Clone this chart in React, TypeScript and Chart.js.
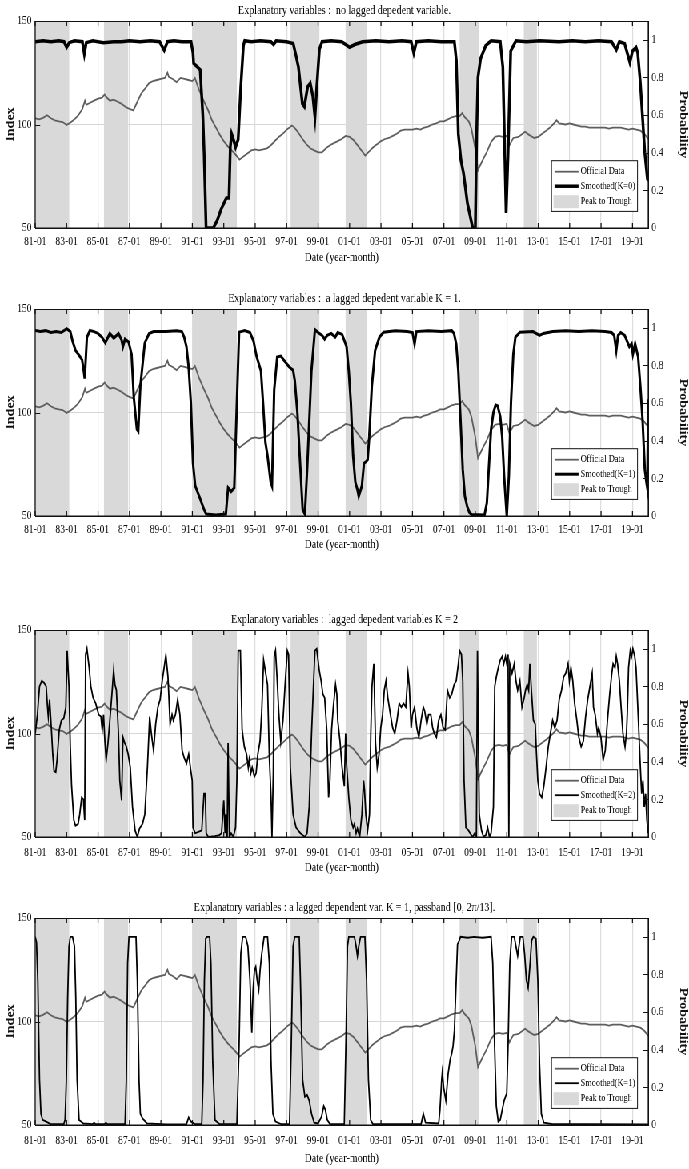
import React, { useEffect, useRef } from 'react';
import { Chart, registerables } from 'chart.js';

Chart.register(...registerables);

// ---------- layout constants ----------
const INNER_W = 861;
const SQUEEZE = 689 / INNER_W;
const PANEL_H = 270;
const FONT = "'Liberation Serif', 'Times New Roman', serif";
const INK = '#111111';
const GRAY_LINE = '#5e5e5e';
const BAND_COLOR = '#d9d9d9';
const GRID_COLOR = '#dedede';

// ---------- axes ----------
const xTickMonths = [0, 24, 48, 72, 96, 120, 144, 168, 192, 216, 240, 264, 288, 312, 336, 360, 384, 408, 432, 456];
const xTickLabels = ['81-01', '83-01', '85-01', '87-01', '89-01', '91-01', '93-01', '95-01', '97-01', '99-01',
  '01-01', '03-01', '05-01', '07-01', '09-01', '11-01', '13-01', '15-01', '17-01', '19-01'];
const indexTicks = [50, 100, 150];
const probTicks = [0, 0.2, 0.4, 0.6, 0.8, 1];
const probTickLabels = ['0', '0.2', '0.4', '0.6', '0.8', '1'];

// ---------- peak-to-trough bands (months since 1981-01) ----------
const bandStart = [0, 52.5, 120.2, 195, 237, 324, 373];
const bandEnd = [26, 71, 154, 217, 253, 339, 383];
const bandLabel = 'Peak to Trough';

// ---------- official index (months since 1981-01, value) ----------
const officialMonths = [0, 3, 6, 9, 12, 15, 18, 21, 24, 27, 30, 33, 36, 38, 39, 42, 45, 48, 51, 53, 54, 57, 60, 63, 66, 69, 72, 75, 78, 81, 84, 87, 90, 93, 96, 99, 101, 102, 105, 108, 111, 114, 117, 120, 122, 125, 129, 132, 135, 138, 141, 144, 147, 150, 153, 156, 159, 162, 165, 168, 171, 174, 177, 180, 183, 186, 189, 192, 196, 198, 201, 204, 207, 210, 213, 216, 219, 222, 225, 228, 231, 234, 237, 240, 243, 246, 249, 252, 255, 258, 261, 264, 267, 270, 273, 276, 279, 282, 285, 288, 291, 294, 297, 300, 303, 306, 309, 312, 315, 318, 321, 324, 326, 328, 331, 333, 336, 338, 341, 345, 348, 351, 354, 357, 360, 362, 365, 369, 372, 374, 377, 381, 384, 387, 390, 393, 396, 398, 400, 405, 408, 411, 414, 417, 420, 423, 426, 429, 432, 435, 438, 441, 444, 447, 450, 453, 456, 459, 462, 465, 468];
const officialIndex = [103, 102.5, 103.2, 104.5, 103, 102, 101.5, 101.2, 99.8, 101, 102.5, 104.5, 107.5, 111.5, 109.5, 110.5, 111.5, 112.5, 113, 114.5, 113.5, 111.5, 112, 111, 110, 108.5, 107.5, 106.8, 111, 115, 117.5, 120, 121, 121.5, 122, 122.5, 125, 123, 122, 120.5, 122.5, 122, 121.5, 121, 122.5, 117, 111, 107, 102, 98.5, 95, 92, 89.5, 87.5, 85.5, 83, 84.5, 86, 87.5, 88, 87.5, 88, 88.5, 90, 92, 94, 95.5, 97.5, 99.5, 98.5, 96, 93, 90.5, 88.5, 87.5, 86.5, 86.5, 88.5, 90, 91, 92, 93, 94.5, 94, 92.5, 90, 87.5, 85, 87, 89, 90.5, 92, 93, 93.5, 94.5, 95.5, 97, 97.5, 97.5, 97.5, 98, 97.5, 98.5, 99, 100, 100.5, 101.5, 101.5, 102.5, 103.5, 104, 104, 105.5, 103.5, 101.5, 98, 88, 78, 82, 87, 91.5, 94, 94.5, 94, 94.5, 90, 93.5, 94, 95.5, 96.5, 95, 93.5, 94, 95.5, 97, 98.5, 100.5, 102, 100.5, 100, 100.5, 100, 99.5, 99, 99, 98.5, 98.5, 98.5, 98.5, 98.5, 98, 98.5, 98.5, 98.5, 98, 97.5, 98, 97.5, 97, 95.5, 93];

// ---------- smoothed probabilities: [month, probability] ----------
const smoothedK0 = [[0, 0.99], [6, 0.995], [12, 0.99], [18, 0.995], [22, 0.99], [24, 0.96], [26, 0.985], [30, 0.995], [36, 0.99], [37.5, 0.925], [39, 0.985], [44, 0.995], [52, 0.985], [60, 0.99], [66, 0.99], [72, 0.995], [80, 0.99], [88, 0.995], [95, 0.99], [98.5, 0.945], [101, 0.99], [106, 0.995], [112, 0.99], [119, 0.99], [120.5, 0.93], [121, 0.875], [124, 0.855], [126, 0.84], [128, 0.6], [129, 0.4], [130.5, 0], [136, 0], [139, 0.04], [142, 0.1], [146, 0.16], [148, 0.16], [149, 0.43], [150, 0.5], [151, 0.48], [153, 0.43], [155, 0.47], [157, 0.75], [159, 0.97], [160, 0.995], [165, 0.99], [172, 0.995], [180, 0.99], [182, 0.975], [184, 0.995], [192, 0.99], [197, 0.98], [199, 0.92], [201, 0.855], [204, 0.66], [205.5, 0.645], [208, 0.75], [210, 0.77], [212, 0.7], [213.6, 0.59], [215, 0.75], [217, 0.95], [219, 0.99], [226, 0.995], [234, 0.99], [240, 0.96], [244, 0.975], [250, 0.99], [260, 0.995], [270, 0.99], [280, 0.995], [287, 0.99], [289, 0.93], [291, 0.99], [300, 0.995], [310, 0.99], [320, 0.99], [321.5, 0.89], [323, 0.5], [325, 0.36], [327, 0.29], [330, 0.13], [334, 0], [336, 0], [337, 0.5], [338, 0.8], [340, 0.9], [344, 0.97], [348, 0.995], [355, 0.99], [357, 0.855], [359.5, 0.08], [361, 0.4], [363, 0.94], [367, 0.995], [375, 0.99], [385, 0.995], [400, 0.99], [410, 0.995], [420, 0.99], [430, 0.995], [440, 0.99], [443.6, 0.947], [446, 0.99], [450, 0.98], [454, 0.88], [456, 0.94], [458.7, 0.96], [460, 0.93], [462, 0.77], [465.4, 0.4], [467.4, 0.26], [468, 0.25]];

const smoothedK1 = [[0, 0.986], [4, 0.98], [8, 0.985], [12, 0.975], [16, 0.98], [20, 0.975], [24, 0.995], [26.8, 0.98], [28.5, 0.93], [30.8, 0.88], [33.5, 0.854], [35.8, 0.83], [37.3, 0.76], [37.8, 0.73], [39.5, 0.95], [41.8, 0.986], [45, 0.98], [48, 0.97], [51, 0.95], [53.5, 0.92], [57, 0.97], [60, 0.945], [63.6, 0.97], [66, 0.935], [67, 0.9], [68.6, 0.94], [71.3, 0.925], [73.6, 0.86], [75.3, 0.63], [77.7, 0.46], [78.7, 0.45], [80.3, 0.69], [83.7, 0.92], [87, 0.97], [90.4, 0.98], [100, 0.98], [108, 0.985], [112, 0.98], [113.8, 0.95], [115.5, 0.9], [117.2, 0.79], [118.9, 0.6], [120.5, 0.28], [122.2, 0.16], [125.5, 0.1], [128.9, 0.035], [130.6, 0.01], [138, 0.005], [145.6, 0.01], [147.3, 0.15], [149.6, 0.13], [152, 0.15], [154, 0.6], [155.7, 0.977], [160, 0.985], [164, 0.975], [166.7, 0.93], [169, 0.85], [172.4, 0.77], [174, 0.6], [175.8, 0.39], [177.4, 0.32], [179.8, 0.18], [180.8, 0.16], [182.5, 0.67], [184.8, 0.845], [187.5, 0.85], [190.8, 0.82], [194.2, 0.79], [196.9, 0.775], [198.2, 0.72], [200.2, 0.55], [202.5, 0.25], [204.2, 0.035], [205.9, 0.01], [207.6, 0.24], [210.9, 0.77], [213.6, 0.99], [216, 0.975], [219, 0.96], [221, 0.94], [223, 0.96], [226, 0.97], [229, 0.95], [231, 0.975], [234.3, 0.965], [237.7, 0.9], [239.4, 0.77], [241, 0.6], [242.7, 0.32], [244.4, 0.18], [246, 0.14], [247, 0.105], [249.4, 0.16], [251, 0.28], [252.8, 0.29], [253.8, 0.3], [255, 0.42], [257, 0.69], [259.5, 0.88], [262.8, 0.95], [266, 0.977], [275, 0.985], [284, 0.98], [288, 0.975], [289.6, 0.915], [291, 0.98], [300, 0.985], [310, 0.98], [318, 0.985], [319.7, 0.97], [321.4, 0.915], [323, 0.77], [324.7, 0.51], [326.4, 0.246], [328, 0.105], [329.8, 0.05], [331.4, 0.02], [333, 0.008], [343, 0.005], [344.8, 0.07], [346.5, 0.28], [348, 0.46], [349.8, 0.55], [351.5, 0.59], [353, 0.585], [355, 0.53], [356.5, 0.42], [358, 0.21], [360, 0], [361.6, 0.21], [363.2, 0.6], [365, 0.86], [366.6, 0.95], [370, 0.977], [380, 0.98], [385, 0.96], [388, 0.97], [395, 0.98], [405, 0.985], [415, 0.98], [425, 0.985], [435, 0.98], [440, 0.975], [442, 0.96], [443.6, 0.88], [445, 0.96], [447, 0.975], [450, 0.96], [453.6, 0.9], [455.3, 0.915], [456.3, 0.86], [458, 0.915], [460.3, 0.845], [462, 0.69], [463.7, 0.51], [465.4, 0.246], [466.7, 0.176], [467.3, 0.15], [468, 0.62]];

const smoothedK2 = [[0, 0.55], [1.7, 0.65], [3.3, 0.8], [5, 0.83], [6.7, 0.82], [8.4, 0.8], [9.4, 0.69], [10, 0.64], [11, 0.73], [12.4, 0.57], [13.4, 0.44], [14.4, 0.35], [15.7, 0.345], [16.7, 0.41], [18.4, 0.57], [20, 0.62], [21.8, 0.63], [23.4, 0.69], [24.4, 0.99], [25.8, 0.8], [26.8, 0.48], [27.8, 0.27], [29.5, 0.09], [30.8, 0.06], [32.8, 0.07], [34, 0.12], [35.5, 0.21], [36.8, 0.2], [37.8, 0.09], [38.5, 0.97], [39.5, 1.0], [41.2, 0.9], [42.5, 0.8], [44.2, 0.74], [46.2, 0.71], [48.5, 0.65], [50.2, 0.64], [51.2, 0.57], [52.2, 0.65], [53.2, 0.51], [54.2, 0.41], [55.6, 0.5], [57, 0.62], [58.6, 0.76], [59.9, 0.885], [60.9, 0.81], [62, 0.78], [63.6, 0.55], [64.6, 0.3], [66, 0.195], [67, 0.53], [68.3, 0.5], [69.6, 0.48], [71, 0.44], [72.6, 0.37], [74.3, 0.16], [76.3, 0.035], [78, 0], [79.7, 0.045], [82, 0.07], [83.7, 0.12], [85.7, 0.37], [87.4, 0.64], [88.7, 0.55], [90.4, 0.46], [92, 0.6], [93.7, 0.69], [95.4, 0.73], [97, 0.83], [99.8, 0.965], [101.4, 0.85], [103, 0.6], [104.5, 0.65], [105.5, 0.62], [107.1, 0.65], [108.8, 0.73], [110.5, 0.65], [112.2, 0.46], [113.8, 0.42], [115.5, 0.39], [117.2, 0.44], [118.9, 0.35], [119.9, 0.3], [120.5, 0.05], [122.2, 0.02], [125.5, 0.03], [127.2, 0.035], [128.9, 0.23], [129.9, 0.23], [130.6, 0.02], [132.2, 0], [137.3, 0.004], [140.6, 0.01], [142.3, 0.02], [144, 0.195], [145, 0.02], [145.6, 0.12], [146.6, 0], [147.3, 0.5], [148.3, 0], [149.6, 0.02], [151.3, 0], [153, 0.05], [154, 0.3], [155, 0.99], [156.7, 0.99], [158, 0.57], [159.7, 0.48], [161.4, 0.44], [162.7, 0.37], [163.4, 0.41], [164.7, 0.34], [165.7, 0.37], [167.4, 0.32], [168.7, 0.34], [170, 0.44], [171.7, 0.51], [173, 0.67], [174.4, 0.94], [176, 0.87], [177.4, 0.81], [178.8, 0.42], [180.1, 0.21], [180.8, 0], [181.8, 0.34], [182.5, 0.96], [183.5, 0.99], [184.8, 0.83], [186.1, 0.65], [187.5, 0.51], [189.2, 0.62], [190.8, 0.81], [192.5, 0.99], [193.5, 0.97], [194.8, 0.37], [196.9, 0.12], [199.2, 0.05], [202.5, 0.02], [205.9, 0], [207.6, 0.02], [209.2, 0.16], [211, 0.55], [212.6, 0.83], [213.6, 0.99], [214.9, 1.0], [216.9, 0.885], [218.3, 0.83], [219.6, 0.76], [221, 0.74], [222.6, 0.57], [224, 0.21], [225, 0.3], [226.3, 0.57], [227.6, 0.69], [229.3, 0.81], [230.3, 0.76], [231, 0.62], [232.7, 0.51], [234.3, 0.37], [236, 0.27], [237, 0.55], [237.7, 0.39], [239.4, 0.21], [241, 0.09], [242.7, 0.05], [243.7, 0.07], [245, 0.02], [246, 0.045], [247.7, 0], [249.4, 0.12], [250.7, 0.3], [251.4, 0.25], [252.4, 0.12], [253.8, 0.035], [255.2, 0.12], [256.2, 0.55], [257.1, 0.8], [258.5, 0.92], [259.8, 0.5], [261.1, 0.37], [262.5, 0.44], [263.8, 0.58], [265.2, 0.65], [266.5, 0.78], [267.8, 0.83], [269.2, 0.74], [271.2, 0.65], [272.9, 0.58], [274.5, 0.55], [276.2, 0.62], [277.9, 0.71], [279.5, 0.69], [281.2, 0.71], [282.9, 0.69], [284.6, 0.87], [285.6, 0.8], [287, 0.58], [288, 0.65], [289.6, 0.69], [291.3, 0.58], [292.9, 0.53], [294.6, 0.62], [296.3, 0.69], [297.3, 0.67], [299, 0.6], [300.3, 0.65], [302, 0.65], [303.4, 0.58], [304.7, 0.55], [306.3, 0.53], [308, 0.62], [309.7, 0.65], [311.4, 0.58], [313, 0.57], [314.7, 0.78], [316.4, 0.74], [318, 0.76], [319.8, 0.81], [321.4, 0.83], [323, 0.92], [324, 0.99], [325.4, 0.97], [326.4, 0.83], [327.4, 0.3], [328.8, 0.05], [330.8, 0.035], [332, 0.02], [334, 0], [335.5, 0.02], [336.8, 0], [337.6, 0.99], [339, 0.12], [340.7, 0.035], [342.3, 0], [344, 0.01], [345.4, 0.05], [346.8, 0], [348, 0.02], [349.8, 0.16], [350.8, 0.8], [352, 0.85], [353.5, 0.9], [355, 0.94], [356.5, 0.96], [357.7, 0.92], [359, 0.96], [360, 0.92], [361, 0.97], [361.6, 0], [362.3, 0.92], [364, 0.87], [365.7, 0.92], [367, 0.83], [368.3, 0.78], [370, 0.83], [371.6, 0.69], [373.3, 0.74], [374.3, 0.78], [375.6, 0.81], [376.7, 0.78], [377.6, 0.92], [379, 0.76], [380.3, 0.62], [381.7, 0.6], [382.7, 0.44], [383.7, 0.3], [385, 0.23], [386.7, 0.21], [388.3, 0.27], [390, 0.37], [391.7, 0.48], [393.3, 0.55], [395, 0.62], [396.7, 0.58], [398.4, 0.62], [400, 0.73], [401.8, 0.78], [403.4, 0.85], [405, 0.87], [406.8, 0.92], [407.8, 0.83], [409, 0.9], [410.4, 0.83], [411.8, 0.71], [413.5, 0.62], [415, 0.53], [416.8, 0.48], [418.5, 0.51], [420.2, 0.64], [421.8, 0.73], [423.5, 0.8], [425.2, 0.87], [426.2, 0.69], [427.5, 0.65], [429.2, 0.55], [430.2, 0.58], [431.9, 0.53], [433.6, 0.41], [435.2, 0.46], [436.9, 0.62], [438.6, 0.76], [440.2, 0.87], [441.2, 0.92], [442.6, 0.9], [443.6, 0.96], [444.6, 0.92], [446, 0.83], [447.3, 0.69], [448.7, 0.55], [450.3, 0.48], [451.4, 0.55], [452, 0.65], [453, 0.9], [454.3, 0.99], [455.3, 0.96], [456.3, 1.0], [457.7, 0.96], [458.7, 0.9], [460.3, 0.65], [462, 0.37], [463, 0.23], [464, 0.3], [465, 0.16], [466, 0.23], [467, 0.09], [468, 0.02]];

const smoothedK1Passband = [[0, 1.0], [1, 0.97], [2, 0.77], [3.3, 0.24], [4.4, 0.06], [5.7, 0.027], [8.4, 0.018], [11.7, 0.005], [21.8, 0.004], [22.8, 0.027], [23.8, 0.24], [24.8, 0.68], [25.8, 0.95], [26.8, 1.0], [28.5, 1.0], [30, 0.95], [31, 0.68], [32, 0.24], [33.5, 0.027], [35, 0.018], [36.8, 0.008], [44, 0.005], [45, 0.012], [46, 0.004], [53, 0.004], [54, 0.012], [55, 0.004], [68.6, 0.005], [69.6, 0.24], [70.6, 0.86], [71.6, 1.0], [77, 1.0], [78, 0.77], [79.3, 0.24], [80.3, 0.06], [82, 0.035], [85.4, 0.008], [100, 0.003], [115.5, 0.004], [117.2, 0.04], [118.9, 0.018], [122, 0.005], [127.2, 0.005], [128.2, 0.24], [129.2, 0.77], [130.2, 0.99], [131.2, 1.0], [133.2, 1.0], [134.2, 0.86], [135.6, 0.33], [137.3, 0.027], [140.6, 0.005], [154, 0.005], [155.7, 0.42], [157, 0.91], [158.4, 1.0], [160.7, 1.0], [162.4, 0.95], [164, 0.77], [165.4, 0.49], [166.4, 0.72], [167.4, 0.82], [168.4, 0.84], [169.5, 0.77], [170.7, 0.72], [171.7, 0.82], [173, 0.91], [174.8, 1.0], [177.4, 1.0], [178.8, 0.86], [180.1, 0.33], [181.5, 0.06], [183.5, 0.018], [188, 0.004], [194.2, 0.005], [195.5, 0.42], [196.9, 0.95], [198.2, 1.0], [201.6, 1.0], [202.5, 0.77], [204.2, 0.24], [205.9, 0.15], [207.6, 0.16], [209.2, 0.13], [211, 0.06], [213, 0.012], [216, 0.008], [218.6, 0.044], [220.3, 0.1], [221.6, 0.08], [223, 0.027], [225, 0.005], [236, 0.005], [237.4, 0.5], [238.4, 0.95], [239.4, 1.0], [243.7, 1.0], [245, 0.95], [246, 0.9], [247, 0.95], [248.4, 1.0], [251.7, 1.0], [253, 0.77], [254.4, 0.24], [256.1, 0.027], [257.8, 0.005], [294.6, 0.005], [296.3, 0.06], [298, 0.012], [308, 0.008], [309, 0.08], [310.3, 0.24], [310.8, 0.28], [311.8, 0.2], [313.5, 0.13], [315.2, 0.27], [316.8, 0.35], [318, 0.38], [319, 0.42], [320, 0.5], [321.4, 0.77], [322.4, 0.96], [323.7, 0.98], [324.7, 1.0], [330, 0.995], [335, 1.0], [341.5, 0.995], [348, 1.0], [349.3, 0.86], [350.7, 0.42], [352, 0.1], [353.5, 0.018], [355, 0.027], [356.5, 0.08], [358, 0.13], [360, 0.17], [361, 0.42], [362.3, 0.86], [363.7, 1.0], [365.7, 1.0], [367, 0.95], [368.3, 0.9], [369.3, 0.95], [370.3, 1.0], [372.3, 1.0], [373.6, 0.91], [375, 0.77], [376.3, 0.73], [377.6, 0.84], [379, 0.98], [380.3, 1.0], [382.3, 0.99], [383.7, 0.77], [385, 0.33], [386.4, 0.06], [388.3, 0.012], [395, 0.004], [420, 0.004], [468, 0.003]];

// ---------- panel texts ----------
const panelTitles = [
  'Explanatory variables :  no lagged depedent variable.',
  'Explanatory variables :  a lagged depedent variable K = 1.',
  'Explanatory variables :  lagged depedent variables K = 2',
  'Explanatory variables : a lagged dependent var. K = 1, passband [0, 2\u03c0/13].',
];
const smoothedLabels = ['Smoothed(K=0)', 'Smoothed(K=1)', 'Smoothed(K=2)', 'Smoothed(K=1)'];
const smoothedSeries = [smoothedK0, smoothedK1, smoothedK2, smoothedK1Passband];
const officialLabel = 'Official Data';
const xAxisTitle = 'Date (year-month)';
const leftAxisTitle = 'Index';
const rightAxisTitle = 'Probability';

// ---------- per-panel styling ----------
const panelTops = [0, 288, 609, 897];
const smoothedWidths = [3.5, 3, 1.8, 1.8];
const xTickPads = [6.6, 6.6, 9.1, 9.1];
const xTitlePads = [4.5, 5.5, 3.5, 0.5];

const S = SQUEEZE;

const decorPlugin = {
  id: 'decor',
  beforeDatasetsDraw(chart: any) {
    const { ctx, chartArea: a, scales } = chart;
    const xs = scales.x;
    ctx.save();
    ctx.fillStyle = BAND_COLOR;
    for (let i = 0; i < bandStart.length; i++) {
      const x0 = xs.getPixelForValue(bandStart[i]);
      const x1 = xs.getPixelForValue(bandEnd[i]);
      ctx.fillRect(x0, a.top, x1 - x0, a.bottom - a.top);
    }
    ctx.restore();
  },
  afterDatasetsDraw(chart: any) {
    const { ctx, chartArea: a, scales } = chart;
    ctx.save();
    ctx.strokeStyle = INK;
    ctx.lineWidth = 1;
    ctx.beginPath();
    ctx.moveTo(a.left, a.top + 0.5);
    ctx.lineTo(a.right, a.top + 0.5);
    ctx.moveTo(a.left, a.bottom);
    ctx.lineTo(a.right, a.bottom);
    ctx.stroke();
    ctx.lineWidth = 1.25;
    ctx.beginPath();
    ctx.moveTo(a.left, a.top);
    ctx.lineTo(a.left, a.bottom);
    ctx.moveTo(a.right, a.top);
    ctx.lineTo(a.right, a.bottom);
    ctx.stroke();
    ctx.lineWidth = 1.25;
    ctx.beginPath();
    for (const m of xTickMonths) {
      const px = scales.x.getPixelForValue(m);
      ctx.moveTo(px, a.bottom);
      ctx.lineTo(px, a.bottom - 5);
      ctx.moveTo(px, a.top);
      ctx.lineTo(px, a.top + 5);
    }
    ctx.stroke();
    ctx.lineWidth = 1;
    ctx.beginPath();
    for (const v of indexTicks) {
      const py = Math.round(scales.y.getPixelForValue(v)) + 0.5;
      ctx.moveTo(a.left, py);
      ctx.lineTo(a.left + 5 / S, py);
    }
    for (const v of probTicks) {
      const py = Math.round(scales.y2.getPixelForValue(v)) + 0.5;
      ctx.moveTo(a.right, py);
      ctx.lineTo(a.right - 5 / S, py);
    }
    ctx.stroke();
    ctx.restore();
  },
  afterDraw(chart: any, _args: any, opts: any) {
    const { ctx, chartArea: a } = chart;
    const ds = chart.data.datasets;
    const right = a.right - 10.7 / S;
    const left = right - 86 / S;
    const bottom = a.bottom - 16.6;
    const top = bottom - 50.7;
    ctx.save();
    ctx.fillStyle = '#ffffff';
    ctx.fillRect(left, top, right - left, bottom - top);
    ctx.strokeStyle = INK;
    ctx.lineWidth = 1;
    ctx.strokeRect(left, top, right - left, bottom - top);
    const rows = [top + 11, top + 25.5, top + 41];
    const sx0 = left + 3 / S;
    const sx1 = left + 27 / S;
    ctx.strokeStyle = GRAY_LINE;
    ctx.lineWidth = 1.8;
    ctx.beginPath();
    ctx.moveTo(sx0, rows[0]);
    ctx.lineTo(sx1, rows[0]);
    ctx.stroke();
    ctx.strokeStyle = '#000000';
    ctx.lineWidth = opts.lw;
    ctx.beginPath();
    ctx.moveTo(sx0, rows[1]);
    ctx.lineTo(sx1, rows[1]);
    ctx.stroke();
    ctx.fillStyle = BAND_COLOR;
    ctx.fillRect(left + 2 / S, rows[2] - 6.5, 25 / S, 13);
    ctx.fillStyle = '#000000';
    ctx.font = `10.5px ${FONT}`;
    ctx.textBaseline = 'middle';
    ctx.textAlign = 'left';
    const tx = left + 29 / S;
    ctx.fillText(ds[0].label, tx, rows[0]);
    ctx.fillText(ds[1].label, tx, rows[1]);
    ctx.fillText(bandLabel, tx, rows[2]);
    ctx.restore();
  },
};

function buildConfig(i: number): any {
  const officialPoints = officialMonths.map((m, k) => ({ x: m, y: officialIndex[k] }));
  const smoothPoints = smoothedSeries[i].map((p) => ({ x: p[0], y: p[1] }));
  const tickFont = { family: FONT, size: 12 };
  return {
    type: 'line',
    data: {
      datasets: [
        {
          label: officialLabel,
          data: officialPoints,
          yAxisID: 'y',
          borderColor: GRAY_LINE,
          borderWidth: 1.8,
          pointRadius: 0,
          tension: 0,
          order: 2,
        },
        {
          label: smoothedLabels[i],
          data: smoothPoints,
          yAxisID: 'y2',
          borderColor: '#000000',
          borderWidth: smoothedWidths[i],
          pointRadius: 0,
          tension: 0,
          order: 1,
        },
      ],
    },
    options: {
      animation: false,
      responsive: true,
      maintainAspectRatio: false,
      devicePixelRatio: 1,
      events: [],
      layout: { padding: 0 },
      plugins: {
        legend: { display: false },
        tooltip: { enabled: false },
        title: {
          display: true,
          text: panelTitles[i],
          color: '#000000',
          font: { family: FONT, size: 12.5, weight: 'normal', lineHeight: 1.2 },
          padding: { top: 3, bottom: 3 },
        },
        decor: { lw: smoothedWidths[i] },
      },
      scales: {
        x: {
          type: 'linear',
          min: 0,
          max: 468,
          afterBuildTicks: (s: any) => {
            s.ticks = xTickMonths.map((v) => ({ value: v }));
          },
          afterFit: (s: any) => {
            s.height = 42;
          },
          ticks: {
            autoSkip: false,
            maxRotation: 0,
            minRotation: 0,
            padding: xTickPads[i],
            color: INK,
            font: tickFont,
            callback: (v: number) => {
              const k = xTickMonths.indexOf(v);
              return k >= 0 ? xTickLabels[k] : '';
            },
          },
          grid: { color: GRID_COLOR, lineWidth: 1.25, drawTicks: false },
          border: { display: true, color: INK, width: 1 },
          title: {
            display: true,
            text: xAxisTitle,
            color: '#000000',
            font: { family: FONT, size: 12.5, lineHeight: 1.2 },
            padding: { top: 0, bottom: xTitlePads[i] },
          },
        },
        y: {
          type: 'linear',
          position: 'left',
          min: 50,
          max: 150,
          afterBuildTicks: (s: any) => {
            s.ticks = indexTicks.map((v) => ({ value: v }));
          },
          afterFit: (s: any) => {
            s.width = 44;
          },
          ticks: {
            padding: 4.4,
            color: INK,
            font: tickFont,
            callback: (v: number) => String(v),
          },
          grid: { color: '#d6d6d6', lineWidth: 1, drawTicks: false },
          border: { display: true, color: INK, width: 1 },
          title: {
            display: true,
            text: leftAxisTitle,
            color: '#111111',
            font: { family: FONT, size: 14, weight: 'bold', lineHeight: 1.2 },
            padding: { top: 5.3, bottom: 0 },
          },
        },
        y2: {
          type: 'linear',
          position: 'right',
          min: 0,
          max: 1.1,
          afterBuildTicks: (s: any) => {
            s.ticks = probTicks.map((v) => ({ value: v }));
          },
          afterFit: (s: any) => {
            s.width = INNER_W - 810;
          },
          ticks: {
            padding: 4.1,
            color: INK,
            font: tickFont,
            callback: (v: number) => {
              const k = probTicks.findIndex((t) => Math.abs(t - v) < 1e-6);
              return k >= 0 ? probTickLabels[k] : '';
            },
          },
          grid: { drawOnChartArea: false, drawTicks: false },
          border: { display: true, color: INK, width: 1 },
          title: {
            display: true,
            text: rightAxisTitle,
            color: '#111111',
            font: { family: FONT, size: 14, weight: 'bold', lineHeight: 1.1 },
            padding: { top: 0, bottom: 0 },
          },
        },
      },
    },
    plugins: [decorPlugin],
  };
}

function Panel({ index }: { index: number }) {
  const ref = useRef<HTMLCanvasElement | null>(null);
  useEffect(() => {
    if (!ref.current) return;
    const chart = new Chart(ref.current, buildConfig(index));
    return () => chart.destroy();
  }, [index]);
  return (
    <div style={{ position: 'absolute', left: 0, top: panelTops[index], width: INNER_W, height: PANEL_H }}>
      <canvas ref={ref} />
    </div>
  );
}

export default function App() {
  return (
    <div style={{ position: 'fixed', left: 0, top: 0, width: 689, height: 1169, overflow: 'hidden', background: '#ffffff' }}>
      <div
        style={{
          position: 'absolute',
          left: 0,
          top: 0,
          width: INNER_W,
          height: 1169,
          transform: `scaleX(${SQUEEZE})`,
          transformOrigin: '0 0',
        }}
      >
        {[0, 1, 2, 3].map((i) => (
          <Panel key={i} index={i} />
        ))}
      </div>
    </div>
  );
}
